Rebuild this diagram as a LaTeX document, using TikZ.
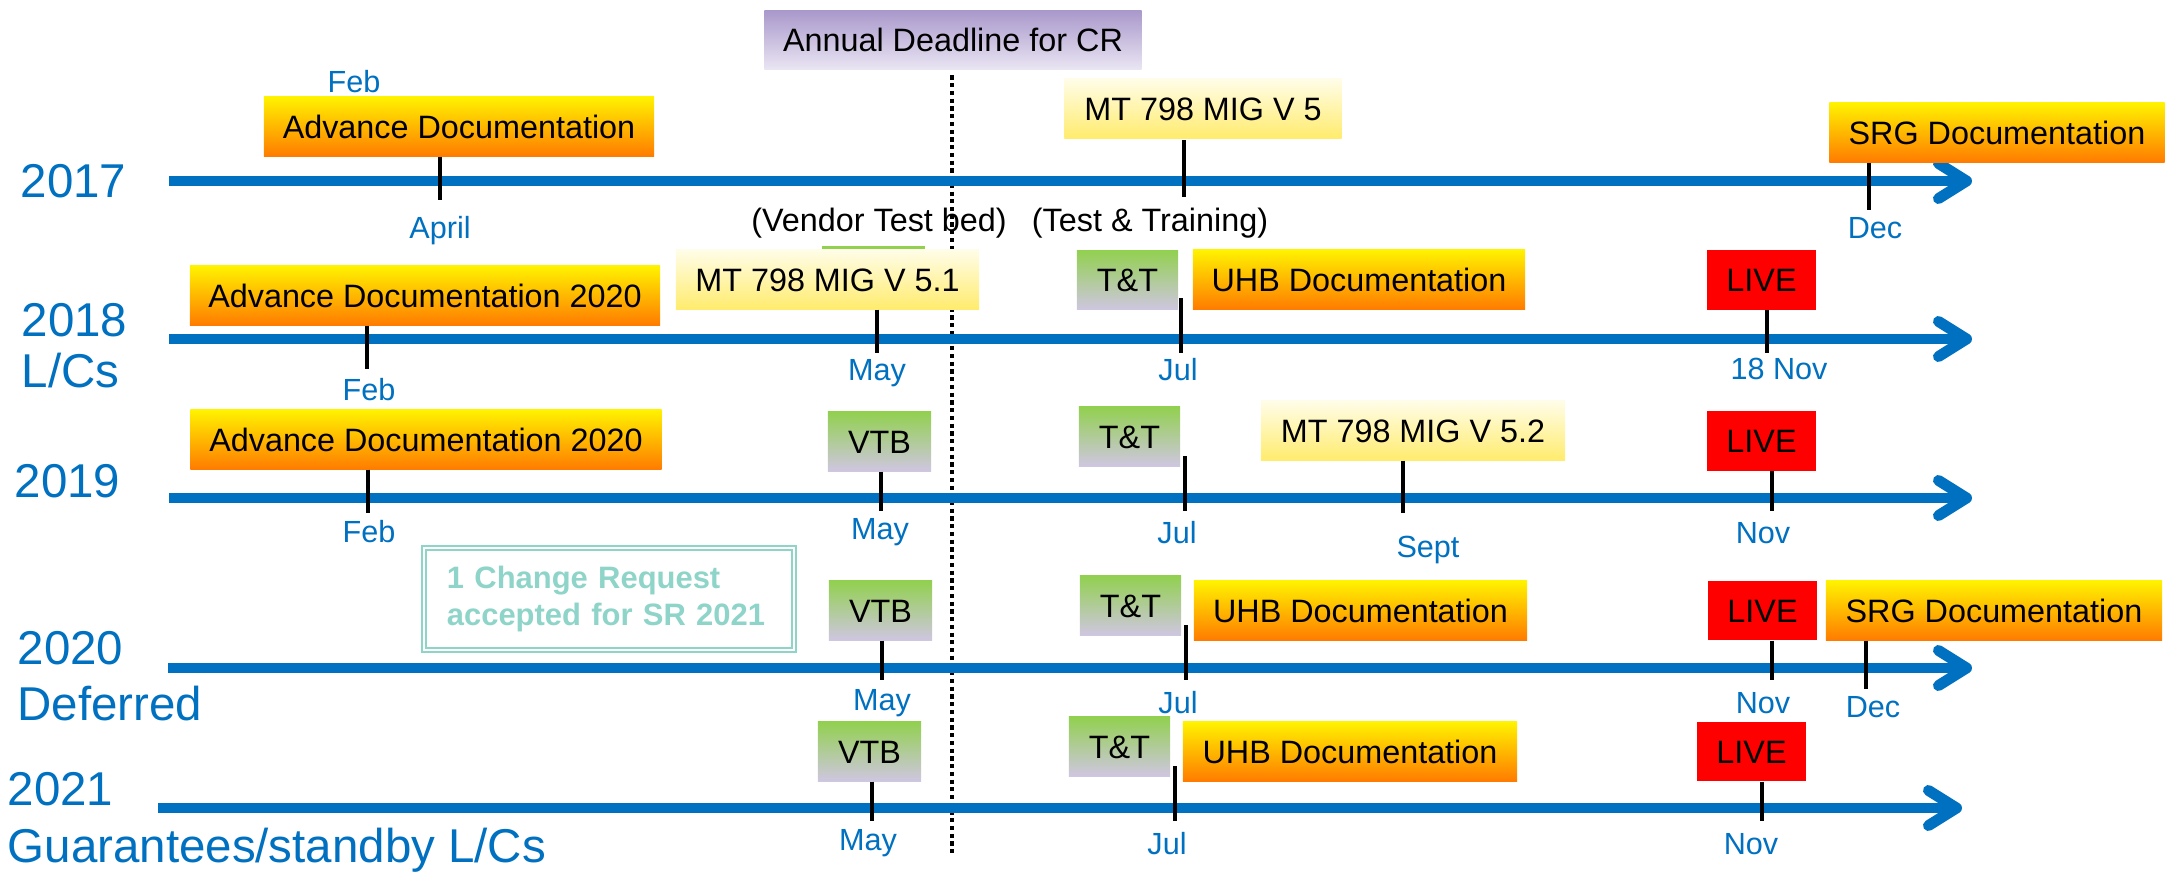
\documentclass[tikz,border=0pt]{standalone}
\usepackage{fontspec}
\setmainfont{Liberation Sans}
\usetikzlibrary{arrows.meta,positioning}

\definecolor{lineblue}{HTML}{0070C0}
\definecolor{docyellow}{HTML}{FFF200}
\definecolor{docorange}{HTML}{FF7C00}
\definecolor{migtop}{HTML}{FFFDE8}
\definecolor{migbottom}{HTML}{FFEC6E}
\definecolor{vtbgreen}{HTML}{92D050}
\definecolor{vtblilac}{HTML}{CFC6E0}
\definecolor{livered}{HTML}{FF0000}
\definecolor{crpurple}{HTML}{A998CB}
\definecolor{crlight}{HTML}{EAE6F3}
\definecolor{crteal}{HTML}{8ED4C8}

\begin{document}
\begin{tikzpicture}[
    x=0.01cm, y=-0.01cm,
    every node/.append style={inner sep=0pt},
    box/.style={minimum height=0.59cm, text height=6.6pt, text depth=0pt,
                font=\fontsize{9.2}{11}\selectfont},
    docbox/.style={box, top color=docyellow, bottom color=docorange},
    migbox/.style={box, top color=migtop, bottom color=migbottom},
    vtbbox/.style={box, top color=vtbgreen, bottom color=vtblilac, minimum width=1.02cm},
    livebox/.style={box, fill=livered, minimum width=1.09cm},
    note/.style={font=\fontsize{9.2}{11}\selectfont, text height=6.6pt, text depth=0pt},
    month/.style={text=lineblue, font=\fontsize{8.7}{10}\selectfont,
                  text height=6.2pt, text depth=0pt},
    year/.style={anchor=west, text=lineblue, font=\fontsize{13.5}{16}\selectfont,
                 text height=9.7pt, text depth=0pt},
    timeline/.style={draw=lineblue, line width=3.1pt,
                     -{Straight Barb[length=8pt,width=10pt,round]}},
    tick/.style={draw=black, line width=1pt},
    deadline line/.style={draw=black, line width=1pt, dash pattern=on 1.2pt off 1pt}
  ]
  \useasboundingbox (0,0) rectangle (2178,876);

  % deadline
  \node[box, top color=crpurple, bottom color=crlight, minimum width=3.77cm] (annual) at (953,40) {Annual Deadline for CR};
  \coordinate (dlend) at (952,854);
  \draw[deadline line] ([yshift=-1.5pt]annual.south -| dlend) -- (dlend);

  % 2017
  \node[year] (y17) at (20,180) {2017};
  \coordinate (s17) at (169,181);
  \coordinate (e17) at (1972,181);
  \draw[timeline] (s17) -- (e17);
  \node[month] (feb17) at (354,82) {Feb};
  \node[docbox, minimum width=3.90cm] (adv17) at (459,126.5) {Advance Documentation};
  \node[migbox, minimum width=2.77cm] (mig17) at (1203,108.5) {MT 798 MIG V 5};
  \node[docbox, minimum width=3.35cm] (srg17) at (1997,132.5) {SRG Documentation};
  \node[month] (apr17) at (440,228) {April};
  \node[note] (vtbnote) at (879,220) {(Vendor Test bed)};
  \node[note] (ttnote) at (1150,220) {(Test \& Training)};
  \node[month] (dec17) at (1875,228) {Dec};
  \coordinate (t17a) at (440,200);
  \coordinate (t17b) at (1184,197);
  \coordinate (t17c) at (1869,210);
  \draw[tick] (adv17.south -| t17a) -- (t17a);
  \draw[tick] ([yshift=-0.5pt]mig17.south -| t17b) -- (t17b);
  \draw[tick] (srg17.south -| t17c) -- (t17c);

  % 2018
  \node[year] (y18) at (21,319) {2018};
  \node[year] (lc18) at (21,370) {L/Cs};
  \coordinate (s18) at (169,339);
  \coordinate (e18) at (1972,339);
  \draw[timeline] (s18) -- (e18);
  \fill[vtbgreen] (822,246) rectangle (925,262);
  \node[docbox, minimum width=4.70cm] (adv18) at (425,295.5) {Advance Documentation 2020};
  \node[migbox, minimum width=3.03cm] (mig18) at (827.5,279.5) {MT 798 MIG V 5.1};
  \node[vtbbox, minimum width=1.01cm] (tt18) at (1127.5,280) {T\&T};
  \node[docbox, minimum width=3.32cm] (uhb18) at (1359,279.5) {UHB Documentation};
  \node[livebox] (live18) at (1761.5,280) {LIVE};
  \node[month] (feb18) at (369,390) {Feb};
  \node[month] (may18) at (877,370) {May};
  \node[month] (jul18) at (1178,370) {Jul};
  \node[month] (nov18) at (1779,369) {18 Nov};
  \coordinate (t18a) at (367,369);
  \coordinate (t18b) at (877,353);
  \coordinate (t18c) at (1181,353);
  \coordinate (t18d) at (1767,353);
  \draw[tick] (adv18.south -| t18a) -- (t18a);
  \draw[tick] (mig18.south -| t18b) -- (t18b);
  \draw[tick] ([yshift=3.4pt]tt18.south -| t18c) -- (t18c);
  \draw[tick] (live18.south -| t18d) -- (t18d);

  % 2019
  \node[year] (y19) at (14,480) {2019};
  \coordinate (s19) at (169,498);
  \coordinate (e19) at (1972,498);
  \draw[timeline] (s19) -- (e19);
  \node[docbox, minimum width=4.71cm] (adv19) at (426,439.5) {Advance Documentation 2020};
  \node[vtbbox, minimum width=1.03cm] (vtb19) at (879.5,441.5) {VTB};
  \node[vtbbox, minimum width=1.01cm] (tt19) at (1129.5,436.5) {T\&T};
  \node[migbox, minimum width=3.04cm] (mig19) at (1413,430.5) {MT 798 MIG V 5.2};
  \node[livebox] (live19) at (1761.5,441) {LIVE};
  \node[month] (feb19) at (369,532) {Feb};
  \node[month] (may19) at (880,529) {May};
  \node[month] (jul19) at (1177,533) {Jul};
  \node[month] (sep19) at (1428,547) {Sept};
  \node[month] (nov19) at (1763,533) {Nov};
  \coordinate (t19a) at (368,513);
  \coordinate (t19b) at (881,511);
  \coordinate (t19c) at (1185,511);
  \coordinate (t19d) at (1403,513);
  \coordinate (t19e) at (1772,511);
  \draw[tick] (adv19.south -| t19a) -- (t19a);
  \draw[tick] (vtb19.south -| t19b) -- (t19b);
  \draw[tick] ([yshift=3.1pt]tt19.south -| t19c) -- (t19c);
  \draw[tick] (mig19.south -| t19d) -- (t19d);
  \draw[tick] (live19.south -| t19e) -- (t19e);

  % 2020
  \node[year] (y20) at (17,647) {2020};
  \node[year] (def20) at (17,703) {Deferred};
  \coordinate (s20) at (168,668);
  \coordinate (e20) at (1972,668);
  \draw[timeline] (s20) -- (e20);
  \node[draw=crteal, line width=0.55pt, double=white, double distance=0.6pt,
        minimum width=3.70cm, minimum height=1.02cm, text width=3.24cm, inner xsep=0.23cm,
        align=left, text=crteal, font=\bfseries\fontsize{8.8}{10.8}\selectfont]
        (cr20) at (609,599) {1 Change Request\\accepted for SR 2021};
  \node[vtbbox, minimum width=1.03cm] (vtb20) at (880.5,610.5) {VTB};
  \node[vtbbox, minimum width=1.01cm] (tt20) at (1130.5,605.5) {T\&T};
  \node[docbox, minimum width=3.33cm] (uhb20) at (1360.5,610.5) {UHB Documentation};
  \node[livebox] (live20) at (1762.5,610.5) {LIVE};
  \node[docbox, minimum width=3.36cm] (srg20) at (1994,610.5) {SRG Documentation};
  \node[month] (may20) at (882,700) {May};
  \node[month] (jul20) at (1178,703) {Jul};
  \node[month] (nov20) at (1763,703) {Nov};
  \node[month] (dec20) at (1873,707) {Dec};
  \coordinate (t20a) at (882,680);
  \coordinate (t20b) at (1186,680);
  \coordinate (t20c) at (1772,680);
  \coordinate (t20d) at (1866,689);
  \draw[tick] (vtb20.south -| t20a) -- (t20a);
  \draw[tick] ([yshift=3.1pt]tt20.south -| t20b) -- (t20b);
  \draw[tick] (live20.south -| t20c) -- (t20c);
  \draw[tick] (srg20.south -| t20d) -- (t20d);

  % 2021
  \node[year] (y21) at (7,788) {2021};
  \node[year] (gs21) at (7,845) {Guarantees/standby L/Cs};
  \coordinate (s21) at (158,808);
  \coordinate (e21) at (1962,808);
  \draw[timeline] (s21) -- (e21);
  \node[vtbbox, minimum width=1.03cm] (vtb21) at (869.5,751.5) {VTB};
  \node[vtbbox, minimum width=1.01cm] (tt21) at (1119.5,746.5) {T\&T};
  \node[docbox, minimum width=3.34cm] (uhb21) at (1350,751.5) {UHB Documentation};
  \node[livebox] (live21) at (1751.5,751.5) {LIVE};
  \node[month] (may21) at (868,840) {May};
  \node[month] (jul21) at (1167,844) {Jul};
  \node[month] (nov21) at (1751,844) {Nov};
  \coordinate (t21a) at (872,821);
  \coordinate (t21b) at (1175,821);
  \coordinate (t21c) at (1762,821);
  \draw[tick] (vtb21.south -| t21a) -- (t21a);
  \draw[tick] ([yshift=3.1pt]tt21.south -| t21b) -- (t21b);
  \draw[tick] (live21.south -| t21c) -- (t21c);
\end{tikzpicture}
\end{document}
